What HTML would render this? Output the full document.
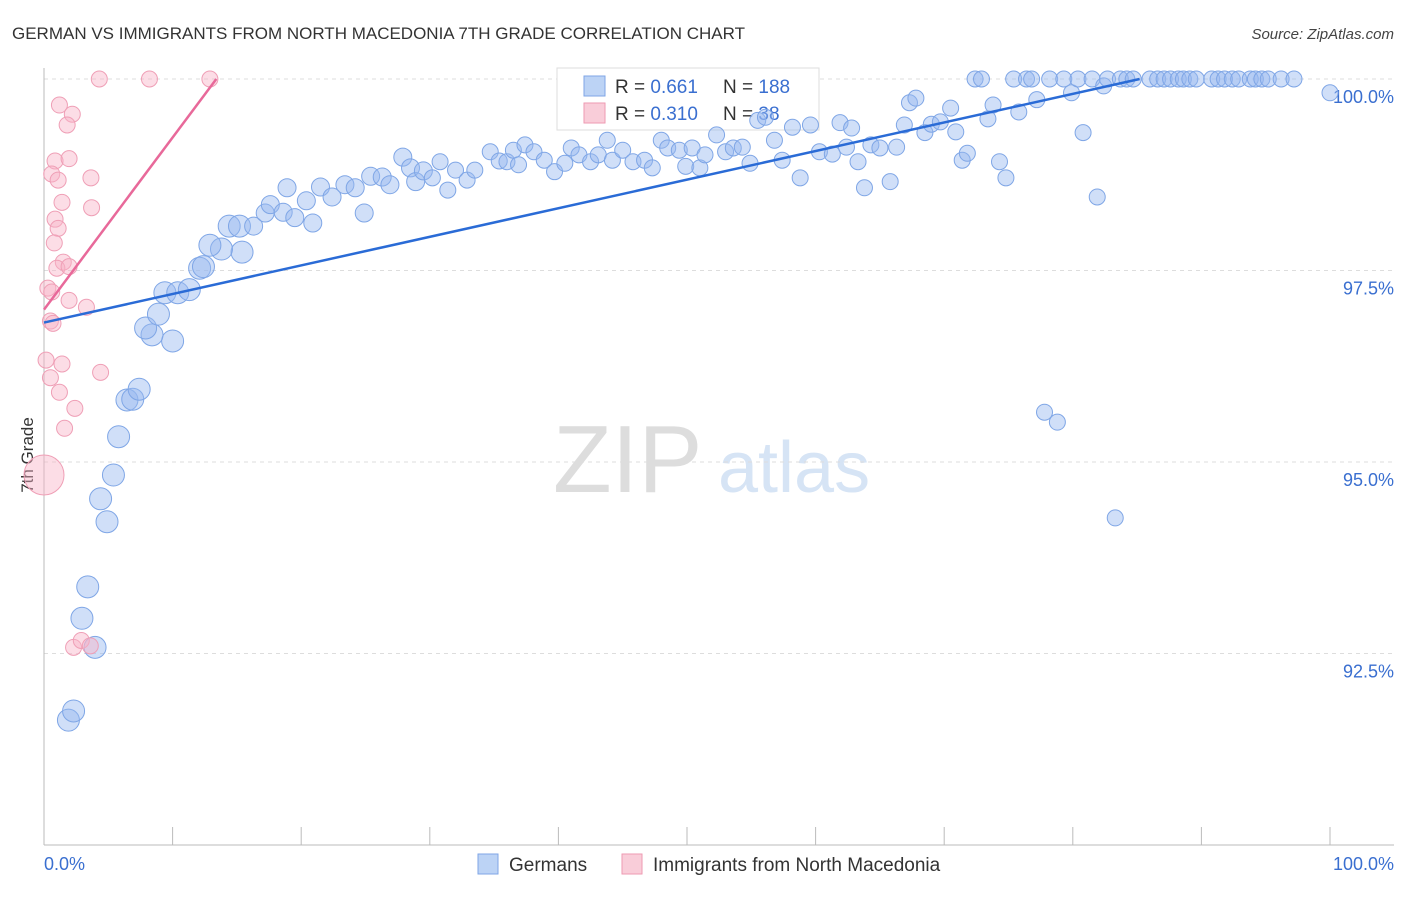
<!DOCTYPE html>
<html><head><meta charset="utf-8"><style>
body{margin:0;background:#fff;font-family:"Liberation Sans",sans-serif;}
svg text{font-family:"Liberation Sans",sans-serif;}
</style></head><body>
<svg id="chart" width="1406" height="892">
<text x="12" y="39" font-size="17" fill="#333">GERMAN VS IMMIGRANTS FROM NORTH MACEDONIA 7TH GRADE CORRELATION CHART</text>
<text x="1394" y="39" font-size="15" fill="#444" font-style="italic" text-anchor="end">Source: ZipAtlas.com</text>
<text transform="translate(33,455) rotate(-90)" font-size="17" fill="#333" text-anchor="middle">7th Grade</text>
<g>
<text x="553" y="492" font-size="96" fill="#ddd" font-family="Liberation Serif,serif">ZIP</text>
<text x="718" y="492" font-size="72" fill="#d6e4f5">atlas</text>
</g>
<g id="grid"></g><g id="axes"></g>
<g>
<rect x="557" y="68" width="262" height="62" fill="#fff" stroke="#ddd"/>
<rect x="584" y="76" width="21" height="20" fill="#bcd3f5" stroke="#7fa6e6"/>
<text x="615" y="93" font-size="19" fill="#333">R = <tspan fill="#3a6fd0">0.661</tspan></text>
<text x="723" y="93" font-size="19" fill="#333">N = <tspan fill="#3a6fd0">188</tspan></text>
<rect x="584" y="103" width="21" height="20" fill="#f9cdd9" stroke="#ee9ab2"/>
<text x="615" y="120" font-size="19" fill="#333">R = <tspan fill="#3a6fd0">0.310</tspan></text>
<text x="723" y="120" font-size="19" fill="#333">N = <tspan fill="#3a6fd0"> 38</tspan></text>
</g>
<g id="pts"></g><g id="lines"></g>
<g>
<rect x="478" y="854" width="20" height="20" fill="#bcd3f5" stroke="#7fa6e6"/>
<text x="509" y="871" font-size="19" fill="#333">Germans</text>
<rect x="622" y="854" width="20" height="20" fill="#f9cdd9" stroke="#ee9ab2"/>
<text x="653" y="871" font-size="19" fill="#333">Immigrants from North Macedonia</text>
</g>
<text x="44" y="870" font-size="18" fill="#3a6fd0">0.0%</text>
<text x="1394" y="870" font-size="18" fill="#3a6fd0" text-anchor="end">100.0%</text>
</svg>
<script>
const yTicks=[100,97.5,95,92.5];
const yTickLabels=["100.0%","97.5%","95.0%","92.5%"];
const xTicks=[0,10,20,30,40,50,60,70,80,90,100];
const blueX=[1.9,2.3,3.97,2.95,3.4,4.9,4.4,5.4,5.8,6.45,6.9,7.4,10,8.4,7.9,8.9,9.4,10.4,11.3,12.1,12.4,15.4,13.8,12.9,14.4,15.2,16.3,17.2,17.6,18.6,19.5,20.9,20.4,18.9,21.5,22.4,23.4,24.2,24.9,25.4,26.3,26.9,27.9,28.5,28.9,29.5,30.2,30.8,31.4,32,32.9,33.5,34.7,35.4,36,36.5,36.9,37.4,38.1,38.9,39.7,40.5,41,41.6,42.5,43.1,43.8,44.2,45,45.8,46.7,47.3,48,48.5,49.4,49.9,50.4,51,51.4,52.3,53,53.6,54.3,54.9,55.5,56.1,56.8,57.4,58.2,58.8,59.6,60.3,61.3,61.9,62.4,62.8,63.3,63.8,64.3,65,65.8,66.3,66.9,67.3,67.8,68.5,69,69.7,70.5,70.9,71.4,71.8,72.4,72.9,73.4,73.8,74.3,74.8,75.4,75.8,76.4,76.8,77.2,77.8,78.2,78.8,79.3,79.9,80.4,80.8,81.5,81.9,82.4,82.7,83.3,83.7,84.2,84.7,86,86.6,87.1,87.6,88.2,88.6,89.1,89.6,90.8,91.3,91.8,92.4,92.9,93.8,94.2,94.7,95.2,96.2,97.2,100];
const blueY=[91.63,91.75,92.58,92.96,93.37,94.22,94.52,94.83,95.33,95.81,95.82,95.95,96.58,96.66,96.75,96.93,97.21,97.21,97.25,97.53,97.55,97.74,97.78,97.83,98.08,98.08,98.08,98.25,98.36,98.26,98.19,98.12,98.41,98.58,98.59,98.46,98.62,98.58,98.25,98.73,98.72,98.62,98.98,98.84,98.66,98.8,98.71,98.92,98.55,98.81,98.68,98.81,99.05,98.93,98.92,99.07,98.88,99.14,99.05,98.94,98.79,98.9,99.1,99.01,98.92,99.01,99.2,98.94,99.07,98.92,98.94,98.84,99.2,99.1,99.07,98.86,99.1,98.84,99.01,99.27,99.05,99.1,99.11,98.9,99.46,99.5,99.2,98.94,99.37,98.71,99.4,99.05,99.02,99.43,99.11,99.36,98.92,98.58,99.14,99.1,98.66,99.11,99.4,99.69,99.75,99.3,99.41,99.44,99.62,99.31,98.94,99.03,100,100,99.48,99.66,98.92,98.71,100,99.57,100,100,99.73,95.65,100,95.52,100,99.82,100,99.3,100,98.46,99.91,100,94.27,100,100,100,100,100,100,100,100,100,100,100,100,100,100,100,100,100,100,100,100,100,100,99.82];
const pinkX=[4.3,8.2,12.9,1.2,2.2,1.8,0.86,1.95,0.6,1.1,3.65,1.4,3.7,0.86,1.1,0.8,1.5,1.0,1.95,0.3,0.6,1.95,3.3,0.5,0.7,0.16,1.4,4.4,0.5,1.2,2.4,1.6,0,2.3,2.9,3.6];
const pinkY=[100,100,100,99.66,99.54,99.4,98.93,98.96,98.76,98.68,98.71,98.39,98.32,98.17,98.05,97.86,97.61,97.53,97.55,97.27,97.22,97.11,97.02,96.84,96.81,96.33,96.28,96.17,96.1,95.91,95.7,95.44,94.83,92.58,92.67,92.6];
const blueTrend=[[0,96.82],[85.2,100]];
const pinkTrend=[[0,96.99],[13.4,100]];
const NS="http://www.w3.org/2000/svg";
const X=v=>44+v*12.86, Y=v=>79+(100-v)*76.6;
function mk(t,a,p){const e=document.createElementNS(NS,t);for(const k in a)e.setAttribute(k,a[k]);p.appendChild(e);return e;}
const grid=document.getElementById('grid'),axes=document.getElementById('axes'),pts=document.getElementById('pts'),lines=document.getElementById('lines');
yTicks.forEach((t,i)=>{
 const l=mk('line',{x1:44,x2:1394,y1:Y(t),y2:Y(t),stroke:'#ddd','stroke-dasharray':'4,4'},grid);
 
 
 const tx=mk('text',{x:1394,y:Y(t)+24,'font-size':18,fill:'#3a6fd0','text-anchor':'end'},axes);
 tx.textContent=yTickLabels[i];
 
 
});
mk('line',{x1:44,x2:44,y1:68,y2:845,stroke:'#bbb'},axes);
mk('line',{x1:44,x2:1394,y1:845,y2:845,stroke:'#bbb'},axes);
xTicks.forEach(t=>{const l=mk('line',{x1:X(t),x2:X(t),y1:827,y2:845,stroke:'#bbb'},axes);
 
 });
blueX.forEach((x,i)=>{const r=x<16?11:(x<30?9:8);
 const c=mk('circle',{cx:X(x),cy:Y(blueY[i]),r:r,fill:'rgba(150,185,240,0.45)',stroke:'#7fa6e6','stroke-width':1},pts);
 
 });
pinkX.forEach((x,i)=>{const r=(x===0)?20:8;
 const c=mk('circle',{cx:X(x),cy:Y(pinkY[i]),r:r,fill:'rgba(248,180,200,0.45)',stroke:'#ef9fb6','stroke-width':1},pts);
 
 });
const bl=mk('line',{x1:X(blueTrend[0][0]),y1:Y(blueTrend[0][1]),x2:X(blueTrend[1][0]),y2:Y(blueTrend[1][1]),stroke:'#2a6bd6','stroke-width':2.5},lines);


const pl=mk('line',{x1:X(pinkTrend[0][0]),y1:Y(pinkTrend[0][1]),x2:X(pinkTrend[1][0]),y2:Y(pinkTrend[1][1]),stroke:'#e8699a','stroke-width':2.5},lines);


</script>
</body></html>
